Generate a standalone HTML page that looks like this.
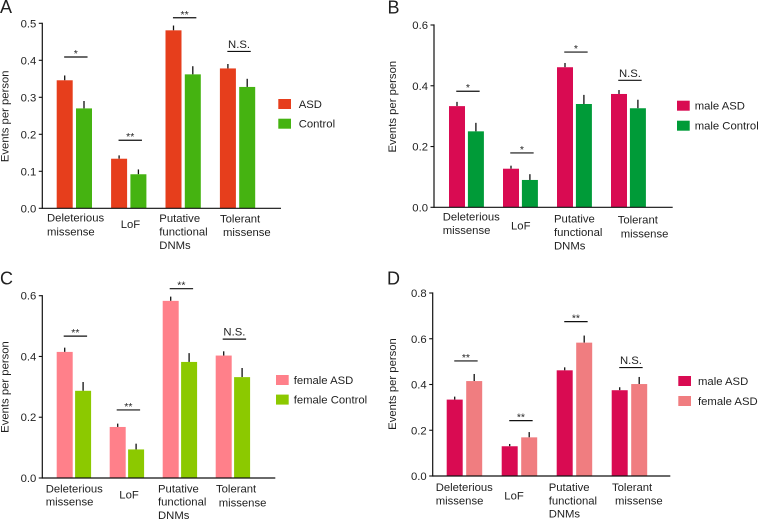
<!DOCTYPE html>
<html lang="en">
<head>
<meta charset="utf-8">
<title>Events per person charts</title>
<style>
html,body{margin:0;padding:0;background:#fff;}
svg{display:block;}
text{font-family:"Liberation Sans",sans-serif;fill:#1f1f1f;font-size:11.3px;}
</style>
</head>
<body>
<svg id="figure" width="758" height="520" viewBox="0 0 758 520" xmlns="http://www.w3.org/2000/svg"></svg>
<script>
// Shared category labels
const categoryLabels = [["Deleterious","missense"],["LoF"],["Putative","functional","DNMs"],["Tolerant","missense"]];

// Panel A values
const aTicks = [0,0.1,0.2,0.3,0.4,0.5];
const aSeriesNames = ["ASD","Control"];
const aFirst = [0.346,0.134,0.481,0.378];
const aSecond = [0.270,0.092,0.362,0.328];
const aFirstErr = [0.359,0.143,0.494,0.390];
const aSecondErr = [0.290,0.105,0.384,0.350];
const aSigLevel = [0.409,0.184,0.515,0.424];
const aSigText = ["*","**","**","N.S."];

// Panel B values
const bTicks = [0,0.2,0.4,0.6];
const bSeriesNames = ["male ASD","male Control"];
const bFirst = [0.333,0.127,0.461,0.373];
const bSecond = [0.250,0.090,0.340,0.326];
const bFirstErr = [0.347,0.137,0.475,0.386];
const bSecondErr = [0.278,0.109,0.370,0.354];
const bSigLevel = [0.382,0.179,0.511,0.418];
const bSigText = ["*","*","*","N.S."];

// Panel C values
const cTicks = [0,0.2,0.4,0.6];
const cSeriesNames = ["female ASD","female Control"];
const cFirst = [0.415,0.168,0.583,0.403];
const cSecond = [0.287,0.094,0.382,0.332];
const cFirstErr = [0.429,0.179,0.597,0.417];
const cSecondErr = [0.316,0.113,0.411,0.362];
const cSigLevel = [0.467,0.224,0.623,0.457];
const cSigText = ["**","**","**","N.S."];

// Panel D values
const dTicks = [0,0.2,0.4,0.6,0.8];
const dSeriesNames = ["male ASD","female ASD"];
const dFirst = [0.334,0.130,0.462,0.375];
const dSecond = [0.415,0.169,0.583,0.402];
const dFirstErr = [0.347,0.140,0.475,0.388];
const dSecondErr = [0.446,0.192,0.614,0.433];
const dSigLevel = [0.503,0.242,0.675,0.474];
const dSigText = ["**","**","**","N.S."];

const NS = "http://www.w3.org/2000/svg";
const fig = document.getElementById("figure");

function makeEl(tag, attrs, parent){
  const el = document.createElementNS(NS, tag);
  for (const k in attrs) el.setAttribute(k, attrs[k]);
  parent.appendChild(el);
  return el;
}

function drawPanel(p){
  const g = makeEl("g", {}, fig);
  
  

  const y = v => p.y0 + (p.yTop - p.y0) * v / p.yMax;
  const groupX = i => p.first + i * p.step;

  const letter = makeEl("text", {x:p.letterX, y:p.letterY, style:"font-size:18px"}, g);
  letter.textContent = p.letter;
  
  

  p.firstVals.forEach((v, i) => {
    [[v, p.firstErr[i], p.colors[0], 0], [p.secondVals[i], p.secondErr[i], p.colors[1], p.offset]].forEach((s, j) => {
      const left = groupX(i) + s[3];
      const err = makeEl("line", {x1:left + 8, x2:left + 8, y1:y(s[0]), y2:y(s[1]), stroke:"#111", "stroke-width":1.3}, g);
      
      
      const bar = makeEl("rect", {x:left, y:y(s[0]), width:16, height:y(0) - y(s[0]), fill:s[2]}, g);
      
      
    });

    const mid = groupX(i) + (16 + p.offset) / 2 + 1.5;
    const sig = makeEl("line", {x1:mid - 11.7, x2:mid + 11.7, y1:y(p.sigLevel[i]), y2:y(p.sigLevel[i]), stroke:"#111", "stroke-width":1.2}, g);
    
    
    const isNs = p.sigText[i] === "N.S.";
    const st = makeEl("text", {x:mid, y:y(p.sigLevel[i]) - (isNs ? 3.5 : 0), "text-anchor":"middle", style:isNs ? "font-size:11.3px" : "font-size:10.5px"}, g);
    st.textContent = p.sigText[i];
    
    
  });

  const yAxis = makeEl("line", {x1:p.x0, x2:p.x0, y1:p.yTop - 0.6, y2:p.y0 + 0.6, stroke:"#111", "stroke-width":1.2}, g);
  
  
  const xAxis = makeEl("line", {x1:p.x0, x2:p.xEnd, y1:p.y0, y2:p.y0, stroke:"#111", "stroke-width":1.2}, g);
  
  

  p.ticks.forEach(t => {
    const tick = makeEl("line", {x1:p.x0 - 3.5, x2:p.x0, y1:y(t), y2:y(t), stroke:"#111", "stroke-width":1.1}, g);
    
    
    const label = makeEl("text", {x:p.x0 - 6, y:y(t) + 4, "text-anchor":"end"}, g);
    label.textContent = t.toFixed(1);
    
    
  });

  const title = makeEl("text", {x:0, y:0, "text-anchor":"middle", transform:"translate(" + p.titleX + " " + p.titleY + ") rotate(-90)"}, g);
  title.textContent = "Events per person";
  
  

  categoryLabels.forEach((lines, i) => {
    lines.forEach((line, j) => {
      const pos = p.labelPos[i][j];
      const cat = makeEl("text", {x:pos[0], y:pos[1]}, g);
      cat.textContent = line;
      
      
    });
  });

  p.names.forEach((name, i) => {
    const sw = makeEl("rect", {x:p.legendX, y:p.legendY[i], width:12.7, height:10, fill:p.colors[i]}, g);
    
    
    const lt = makeEl("text", {x:p.legendTextX, y:p.legendY[i] + 9}, g);
    lt.textContent = name;
    
    
  });
}

drawPanel({letter:"A", letterX:0, letterY:13, x0:42.3, xEnd:281, yTop:23.3, y0:208.3, yMax:0.5,
  ticks:aTicks, names:aSeriesNames, firstVals:aFirst, secondVals:aSecond, firstErr:aFirstErr, secondErr:aSecondErr,
  sigLevel:aSigLevel, sigText:aSigText, colors:["#e63e1c","#45b311"], first:56.7, step:54.4, offset:19.3,
  titleX:8.5, titleY:116.3,
  labelPos:[[[47,221.7],[47,235.3]],[[120.7,228]],[[159.3,222],[159.3,235.3],[159.3,249]],[[220,222.7],[223,236]]],
  legendX:278.3, legendY:[99,118.7], legendTextX:298.7});

drawPanel({letter:"B", letterX:387.5, letterY:13.3, x0:434, xEnd:672.7, yTop:25, y0:207.3, yMax:0.6,
  ticks:bTicks, names:bSeriesNames, firstVals:bFirst, secondVals:bSecond, firstErr:bFirstErr, secondErr:bSecondErr,
  sigLevel:bSigLevel, sigText:bSigText, colors:["#d90b52","#009b38"], first:449, step:54, offset:18.9,
  titleX:396, titleY:106.7,
  labelPos:[[[442.7,220.7],[442.7,234]],[[511,229.3]],[[554,222.7],[554,236],[554,249.7]],[[617.7,223.7],[620.7,237.3]]],
  legendX:677, legendY:[100.7,120.7], legendTextX:694.7});

drawPanel({letter:"C", letterX:0, letterY:284.3, x0:42.3, xEnd:275.3, yTop:295.7, y0:478, yMax:0.6,
  ticks:cTicks, names:cSeriesNames, firstVals:cFirst, secondVals:cSecond, firstErr:cFirstErr, secondErr:cSecondErr,
  sigLevel:cSigLevel, sigText:cSigText, colors:["#ff808a","#8cc900"], first:56.7, step:53, offset:18.4,
  titleX:8.5, titleY:387,
  labelPos:[[[45.7,492.3],[45.7,505.7]],[[119.3,498.3]],[[158,492.3],[158,505.7],[158,519]],[[216,492.7],[218.7,506.3]]],
  legendX:276, legendY:[375,394.6], legendTextX:293.7});

drawPanel({letter:"D", letterX:387, letterY:284.7, x0:432.7, xEnd:670.3, yTop:293, y0:476, yMax:0.8,
  ticks:dTicks, names:dSeriesNames, firstVals:dFirst, secondVals:dSecond, firstErr:dFirstErr, secondErr:dSecondErr,
  sigLevel:dSigLevel, sigText:dSigText, colors:["#d90b52","#f07d80"], first:446.7, step:55, offset:19.5,
  titleX:396, titleY:384,
  labelPos:[[[435.7,491],[435.7,504.3]],[[504.3,499.3]],[[548.7,491],[548.7,504.3],[548.7,517.7]],[[612,491],[615,504.3]]],
  legendX:678.3, legendY:[376,396], legendTextX:698});
</script>
</body>
</html>
